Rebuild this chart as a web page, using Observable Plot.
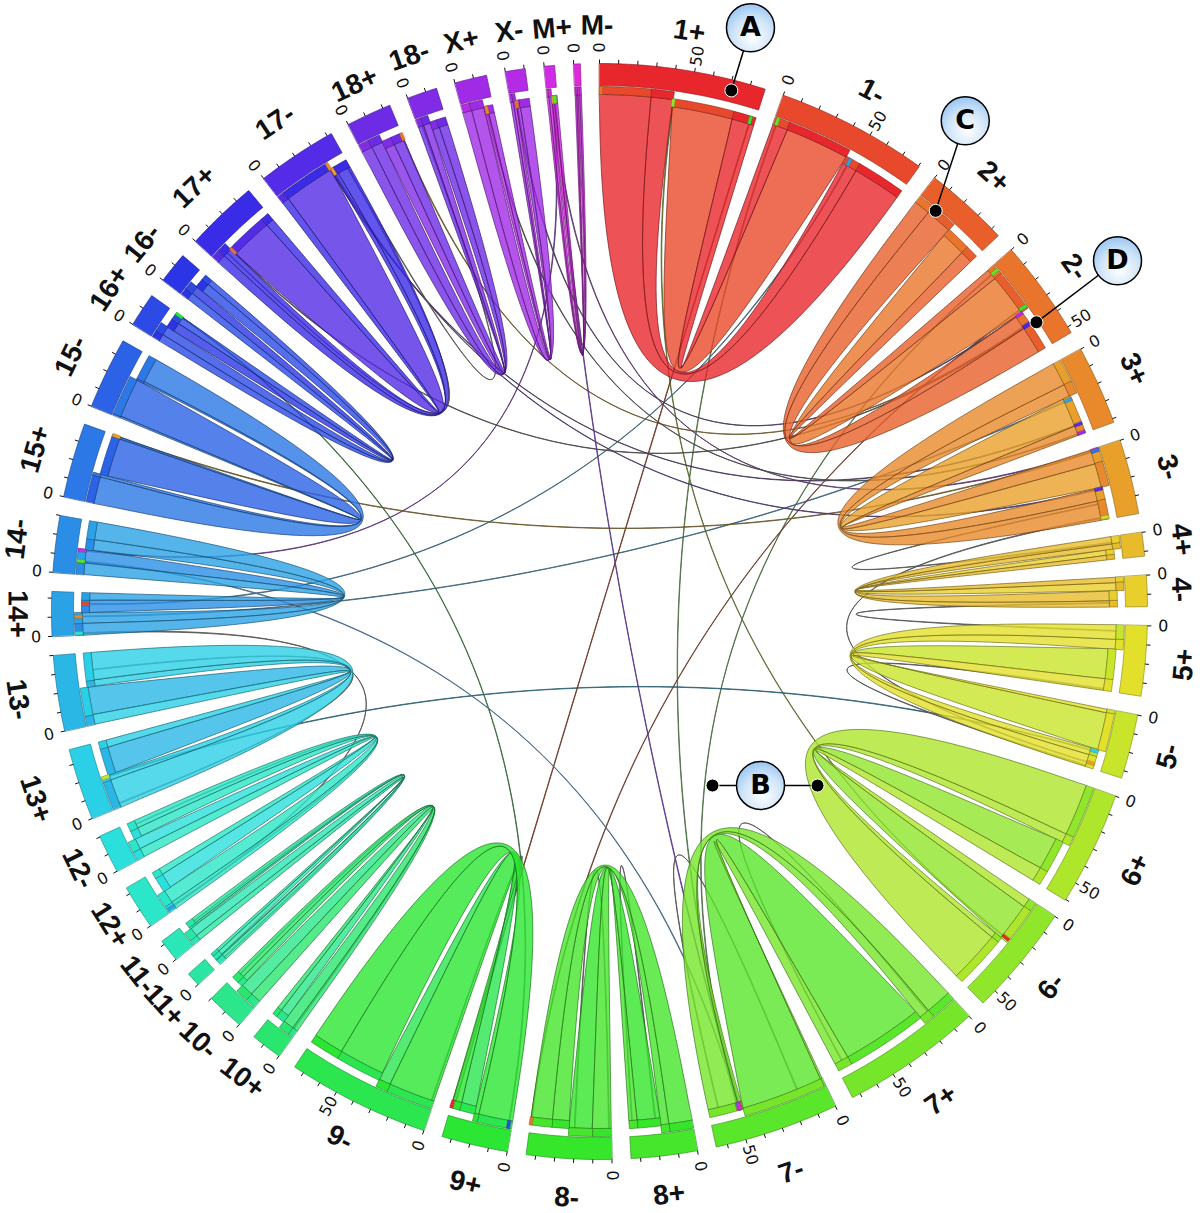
<!DOCTYPE html>
<html><head><meta charset="utf-8">
<style>html,body{margin:0;padding:0;background:#fff}svg{display:block}</style>
<script src="https://cdn.jsdelivr.net/npm/d3@7"></script>
<script src="https://cdn.jsdelivr.net/npm/@observablehq/plot@0.6"></script>
</head><body><script>
// ---- data: strand sectors, in Mb-like units ----
const names=["1+","1-","2+","2-","3+","3-","4+","4-","5+","5-","6+","6-","7+","7-","8+","8-","9+","9-","10+","10-","11+","11-","12+","12-","13+","13-","14+","14-","15+","15-","16+","16-","17+","17-","18+","18-","X+","X-","M+","M-"];
const lengths=[88,80.5,45,53.5,42,39.5,12.5,16.5,37,34,60.5,59,74.5,66,35,45,35,75.5,16.5,20,7.5,12,23.5,20.5,38,40,23.5,30,39.5,38,18,16.5,38.5,42.5,24,16,17,10.5,5.5,3.5];
const colors=["#e8272c","#e8482b","#e85f2b","#e8752b","#e88a2b","#e8a02b","#e8bb2b","#e8cf2b","#e3e02b","#c9e52b","#aee62b","#90e62b","#76e62b","#5ae62b","#45e62b","#35e62b","#2be632","#2be64f","#2be66e","#2be68a","#2be6a2","#2be6b7","#2be6c8","#2be0dc","#2bd0e6","#2bb7e6","#2ba2e6","#2b8ee6","#2b78e6","#2b62e6","#2b4ae6","#2b35e6","#3a2be6","#542be6","#6d2be6","#822be6","#a02be6","#b42be6","#d02be6","#df2bdc"];
// interior breaks of the four alignment blocks in each sector
const breaks=[[28.7,41,75.5],[8.5,44.5,53],[9,24,38],[6,30,38],[13,20,36.5],[8,21.5,28.5],[4,7,10],[3,7.5,13],[8,13.5,30.5],[2,23,27],[29,34,52.5],[5,26.5,29.5],[14.5,20.5,66.5],[1,47,49],[13,17.5,30.5],[10.5,23.5,33],[19,21.5,30],[26,32.5,58.5],[3,9,14],[6,13,16],[3,3.5,6],[3,8,9],[4,11.5,20],[5,11,16],[16,19,34],[5.5,21,24.5],[6.5,12.5,19.5],[6.5,14,20],[15,16.5,38.5],[1,23,24],[4,9,14],[4,8.5,13.5],[5,10,34],[4,32.5,35],[6,12.5,18],[3,7,11],[5,12,14],[1.5,3,5],[1,2.5,4],[.8,1.6,2.6]];
const allOffset=["11+"], noneOffset=["M-"];
// thin cross links: sector, position, sector, position, line colour
const links=[["1+",41,"6-",24.5,"#5d6d33"],["1-",1.5,"7-",48,"#4f6f45"],["2-",3,"7-",49.5,"#4f6f45"],["1-",47,"14+",17,"#3f6478"],["2-",37,"18+",23.5,"#6b5a30"],["13+",18,"5-",24,"#2f6274"],["M+",2.5,"14-",13,"#5a3a7a"],["M+",3,"3-",0.5,"#5a3a6a"],["3+",21.5,"14+",10,"#3f6478"],["16+",17.5,"9+",1.5,"#3a6a3a"],["9+",34.5,"1+",85,"#6e3a2a"],["8-",44.5,"2-",28,"#6e4030"],["15+",39,"3-",1,"#6b5a30"],["17+",10,"2-",37.5,"#4a4a4a"],["17-",33,"3-",22,"#4a3a6a"],["17-",32,"3+",36,"#4a3a5a"],["X-",3,"2-",30,"#4a3a5a"],["X+",13,"3+",41,"#4a4a4a"],["14-",7,"7-",49,"#4a6a8a"],["M+",4,"7-",48.5,"#5a3a8a"],["14+",0.8,"12+",1.5,"#555"],["3-",38,"5-",31,"#555"],["4-",14,"5+",3,"#555"],["5+",36,"5-",33,"#555"],["4+",3,"3-",30,"#555"],["17+",7,"17-",41,"#555"],["17-",41,"18-",2,"#555"],["9+",33,"9-",1,"#555"],["8-",1,"8-",20,"#555"],["8+",20,"8+",33,"#555"],["7+",15,"7+",70,"#555"],["7-",15,"7-",60,"#555"],["10+",2,"10-",18,"#555"],["11+",1,"11-",10,"#555"],["12+",2,"12-",18,"#555"],["13+",2,"13-",30,"#555"]];
const extraMarkers=[["1+",0.6,"2-"]];
const tickStep=10, labelledTicks=[0,50];
const labelNudge={"M-":[2.1,-1],"M+":[0.6,-2],"6+":[0,8],"7+":[0,9],"7-":[0,5],"13+":[0,7],"13-":[0,1],"14+":[0,-5],"12+":[0,-6],"12-":[0,-6],"4-":[0,-5],"18+":[0,-6]};
// callouts: letter, bubble angle/radius, target angle/radius
const callouts=[["A",14.5,603,[[14.2,537.5]]],["B",137.2,237,[[147,207.5],[128.6,279]]],["C",36.7,612,[[40,523]]],["D",55.9,625.6,[[56.5,524]]]];

// ---- layout constants ----
const cx=599, cy=611, degPerUnit=0.2, gapDeg=2;
const R={tickOut:552,blockOut:548,blockIn:526,nearOut:525,nearIn:517,farOut:518,farIn:510,tickLabel:564,name:587};
const starts=[]; {let a=0; lengths.forEach(l=>{starts.push(a); a+=l*degPerUnit+gapDeg;});}
const idx=n=>names.indexOf(n);
const ang=(s,u)=>starts[s]+u*degPerUnit;
const pol=(a,r)=>{const t=a*Math.PI/180;return {x:cx+r*Math.sin(t),y:cy-r*Math.cos(t)};};
function arc(a0,a1,r,n){const o=[];n=n||Math.max(2,Math.ceil(Math.abs(a1-a0)*2));for(let i=0;i<=n;i++)o.push(pol(a0+(a1-a0)*i/n,r));return o;}
// ribbon edge: quadratic through the centre, or a tighter cubic that keeps the same apex
function edge(p,q,tight,n=50){
  const o=[];
  if(!tight){for(let i=1;i<n;i++){const t=i/n,s=(1-t)*(1-t),u=t*t,c=2*t*(1-t);o.push({x:s*p.x+c*cx+u*q.x,y:s*p.y+c*cy+u*q.y});}return o;}
  const qx=cx+((p.x+q.x)/2-cx)/3,qy=cy+((p.y+q.y)/2-cy)/3;
  for(let i=1;i<n;i++){const t=i/n,a=(1-t)**3,b=t**3,c=3*t*(1-t);o.push({x:a*p.x+c*qx+b*q.x,y:a*p.y+c*qy+b*q.y});}
  return o;
}
let pid=0;
function ribbon(a0,a1,ra,b0,b1,rb,tight){const A=arc(a0,a1,ra),B=arc(b0,b1,rb);return [...A,...edge(A[A.length-1],B[0],tight),...B,...edge(B[B.length-1],A[0],tight)];}
const push=(store,pts,fill,stroke)=>{const id=pid++;pts.forEach(p=>store.push({x:p.x,y:p.y,id,fill,stroke}));};
const dark=(c,k=1.6)=>d3.color(c).darker(k).formatHex();
const isFar=(s,u)=>allOffset.includes(names[s])?true:noneOffset.includes(names[s])?false:u>=breaks[s][1];
const rIn=(s,u)=>isFar(s,u)?R.farIn:R.nearIn;
const rOut=(s,u)=>isFar(s,u)?R.farOut:R.nearOut;

const blockRows=[],bandRows=[],ribbonRows=[],linkRows=[],markerRows=[],ticks=[],tickLabels=[],sectorLabels=[];
names.forEach((n,s)=>{
  const a0=ang(s,0),a1=ang(s,lengths[s]);
  push(blockRows,[...arc(a0,a1,R.blockOut),...arc(a1,a0,R.blockIn)],colors[s],dark(colors[s],1.2));
  for(let u=0;u<=lengths[s]+.01;u+=tickStep){
    const a=ang(s,u),p=pol(a,R.blockOut),q=pol(a,R.tickOut);
    ticks.push({x1:p.x,y1:p.y,x2:q.x,y2:q.y});
    if(labelledTicks.includes(u)){const t=pol(a,R.tickLabel);tickLabels.push({x:t.x,y:t.y,text:String(u),rot:a<180?a-90:a+90});}
  }
  const nu=labelNudge[n]||[0,0],m=(a0+a1)/2+nu[0],l=pol(m,R.name+nu[1]);
  sectorLabels.push({x:l.x,y:l.y,text:n,rot:m<=90?m:m<=270?m-180:m-360});
});
// strand pairs k+ / k-: fully nested ribbons
const pairing=[[2,1],[3,0],[1,2],[0,3]];
for(let s=0;s<names.length;s+=2){
  const t=s+1,P=[0,...breaks[s],lengths[s]],M=[0,...breaks[t],lengths[t]];
  const cp=colors[s],cm=colors[t];
  pairing.forEach(([i,j])=>{
    const fill=i===2?cm:cp;
    const rA=rIn(s,(P[i]+P[i+1])/2),rB=rIn(t,(M[j]+M[j+1])/2);
    push(ribbonRows,ribbon(ang(s,P[i]),ang(s,P[i+1]),rA,ang(t,M[j]),ang(t,M[j+1]),rB,i>=2),fill,dark(fill,2));
  });
  [[s,P],[t,M]].forEach(([k,Q])=>{
    const cc=[cm,cp,cm,cp];
    for(let i=0;i<4;i++){
      const mid=(Q[i]+Q[i+1])/2,a=ang(k,Q[i]),b=ang(k,Q[i+1]);
      push(bandRows,[...arc(a,b,rOut(k,mid)),...arc(b,a,rIn(k,mid))],cc[i],dark(cc[i],1.6));
    }
  });
}
const addMarker=(k,u,o)=>{
  const p=ang(k,u-.6),q=ang(k,u+1.1);
  push(markerRows,[...arc(p,q,rOut(k,u)),...arc(q,p,rIn(k,u))],colors[o],dark(colors[o],1));
};
links.forEach(([sa,ua,sb,ub,col])=>{
  const a=idx(sa),b=idx(sb),w=.5;
  push(linkRows,ribbon(ang(a,ua),ang(a,ua+w),rIn(a,ua),ang(b,ub),ang(b,ub+w),rIn(b,ub),false),col,col);
  if(Math.abs(a-b)>2){addMarker(a,ua,b);addMarker(b,ub,a);}
});
extraMarkers.forEach(([s,u,o])=>addMarker(idx(s),u,idx(o)));
const leaders=[],targets=[],bubbles=[];
callouts.forEach(([letter,ba,br,ts])=>{
  const b=pol(ba,br);bubbles.push({x:b.x,y:b.y,letter});
  ts.forEach(([a,r])=>{const p=pol(a,r);leaders.push({x1:b.x,y1:b.y,x2:p.x,y2:p.y});targets.push(p);});
});
const poly=(data,o)=>Plot.line(data,{x:"x",y:"y",z:"id",fill:"fill",stroke:"stroke",curve:"linear-closed",...o});
const chart=Plot.plot({
  width:1200,height:1213,margin:0,
  x:{domain:[0,1200],range:[0,1200],axis:null},
  y:{domain:[0,1213],range:[0,1213],axis:null},
  color:{type:"identity"},
  style:{background:"#fff"},
  marks:[
    ()=>{const d=d3.create("svg:defs"),g=d.append("radialGradient").attr("id","bubble").attr("cx","0.55").attr("cy","0.7").attr("r","0.75");
      g.append("stop").attr("offset","0").attr("stop-color","#ffffff");
      g.append("stop").attr("offset","0.55").attr("stop-color","#cfe4f8");
      g.append("stop").attr("offset","1").attr("stop-color","#8fc0f2");return d.node();},
    poly(linkRows,{strokeWidth:.9,strokeOpacity:.9}),
    poly(ribbonRows,{fillOpacity:.8,strokeWidth:.9,strokeOpacity:.75}),
    poly(bandRows,{strokeWidth:.7,strokeOpacity:.85}),
    poly(markerRows,{strokeWidth:.4}),
    poly(blockRows,{strokeWidth:.8,strokeOpacity:.85}),
    Plot.link(ticks,{x1:"x1",y1:"y1",x2:"x2",y2:"y2",stroke:"#111",strokeWidth:1}),
    Plot.text(tickLabels,{x:"x",y:"y",text:"text",rotate:"rot",fontSize:16,fontFamily:"DejaVu Sans",fill:"#111"}),
    Plot.text(sectorLabels,{x:"x",y:"y",text:"text",rotate:"rot",fontSize:28,fontWeight:"bold",fontFamily:"Liberation Sans",fill:"#111"}),
    Plot.link(leaders,{x1:"x1",y1:"y1",x2:"x2",y2:"y2",stroke:"#000",strokeWidth:1.5}),
    Plot.dot(targets,{x:"x",y:"y",r:6.5,fill:"#000",stroke:"#fff",strokeWidth:1}),
    Plot.dot(bubbles,{x:"x",y:"y",r:24,fill:"url(#bubble)",stroke:"#000",strokeWidth:1.5}),
    Plot.text(bubbles,{x:"x",y:"y",text:"letter",fontSize:27,fontWeight:"bold",fontFamily:"DejaVu Sans",fill:"#000"})
  ]
});
document.body.appendChild(chart);
</script></body></html>
